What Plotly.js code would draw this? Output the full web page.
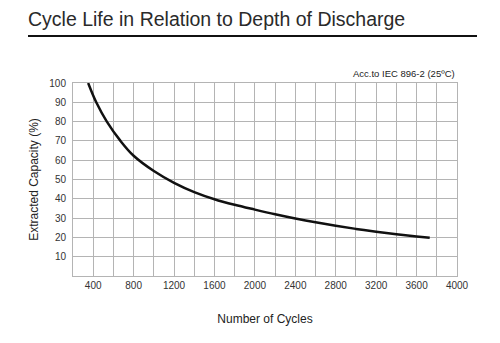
<!DOCTYPE html>
<html>
<head>
<meta charset="utf-8">
<script src="https://cdn.plot.ly/plotly-3.0.1.min.js"></script>
<style>html,body{margin:0;padding:0;background:#fff}#chart{width:500px;height:343px}</style>
</head>
<body>
<div id="chart"></div>
<script>
const cycles = [350, 430, 535, 670, 800, 1000, 1200, 1400, 1600, 1800, 2000, 2200, 2400, 2600, 2800, 3000, 3200, 3400, 3600, 3730];
const capacity = [100, 90, 80, 70, 62.3, 54.4, 48.3, 43.5, 39.8, 36.9, 34.4, 32.0, 29.8, 27.8, 26.0, 24.4, 22.9, 21.6, 20.5, 19.8];
const xTickVals = [400, 800, 1200, 1600, 2000, 2400, 2800, 3200, 3600, 4000];
const xTickText = ["400", "800", "1200", "1600", "2000", "2400", "2800", "3200", "3600", "4000"];
const yTickVals = [10, 20, 30, 40, 50, 60, 70, 80, 90, 100];
const yTickText = ["10", "20", "30", "40", "50", "60", "70", "80", "90", "100"];

const FONT = "Liberation Sans, Arial, sans-serif";
const gridColor = "#b4b4b4";

const trace = {
  x: cycles, y: capacity, type: "scatter", mode: "lines",
  line: {color: "#111", width: 2.5, shape: "spline", smoothing: 1.0},
  hoverinfo: "skip"
};

const layout = {
  width: 500, height: 343,
  margin: {l: 73, r: 43, t: 83, b: 67},
  paper_bgcolor: "#ffffff",
  showlegend: false,
  font: {family: FONT, color: "#333"},
  title: {
    text: "Cycle Life in Relation to Depth of Discharge",
    font: {family: FONT, size: 19.5, color: "#2a2a2a"},
    x: 28 / 500, xref: "container", xanchor: "left", y: 1 - 19 / 343, yref: "container", yanchor: "middle"
  },
  xaxis: {
    range: [200, 4000], tickmode: "array", tickvals: xTickVals, ticktext: xTickText,
    showgrid: true, gridcolor: gridColor, gridwidth: 1,
    minor: {dtick: 200, tick0: 200, showgrid: true, gridcolor: gridColor, gridwidth: 1},
    showline: true, linecolor: gridColor, mirror: true,
    zeroline: false,
    tickfont: {family: FONT, size: 10, color: "#333"},
    title: {text: "Number of Cycles", font: {family: FONT, size: 12, color: "#222"}, standoff: 24}
  },
  yaxis: {
    range: [0, 100], tickmode: "array", tickvals: yTickVals, ticktext: yTickText,
    showgrid: true, gridcolor: gridColor, gridwidth: 1,
    showline: true, linecolor: gridColor, mirror: true,
    zeroline: false, ticklabelstandoff: 4,
    tickfont: {family: FONT, size: 10, color: "#333"},
    title: {text: "Extracted Capacity (%)", font: {family: FONT, size: 12, color: "#222"}, standoff: 8}
  },
  shapes: [
    {type: "line", xref: "paper", yref: "paper",
     x0: -45 / 384, x1: 404 / 384, y0: 1 + 47 / 193, y1: 1 + 47 / 193,
     line: {color: "#111", width: 2}}
  ],
  annotations: [
    {text: "Acc.to IEC 896-2 (25ºC)", xref: "paper", yref: "paper", x: 1, y: 1.01,
     xanchor: "right", yanchor: "bottom", showarrow: false,
     font: {family: FONT, size: 9.5, color: "#222"}}
  ]
};

Plotly.newPlot("chart", [trace], layout, {displayModeBar: false});
</script>
</body>
</html>
